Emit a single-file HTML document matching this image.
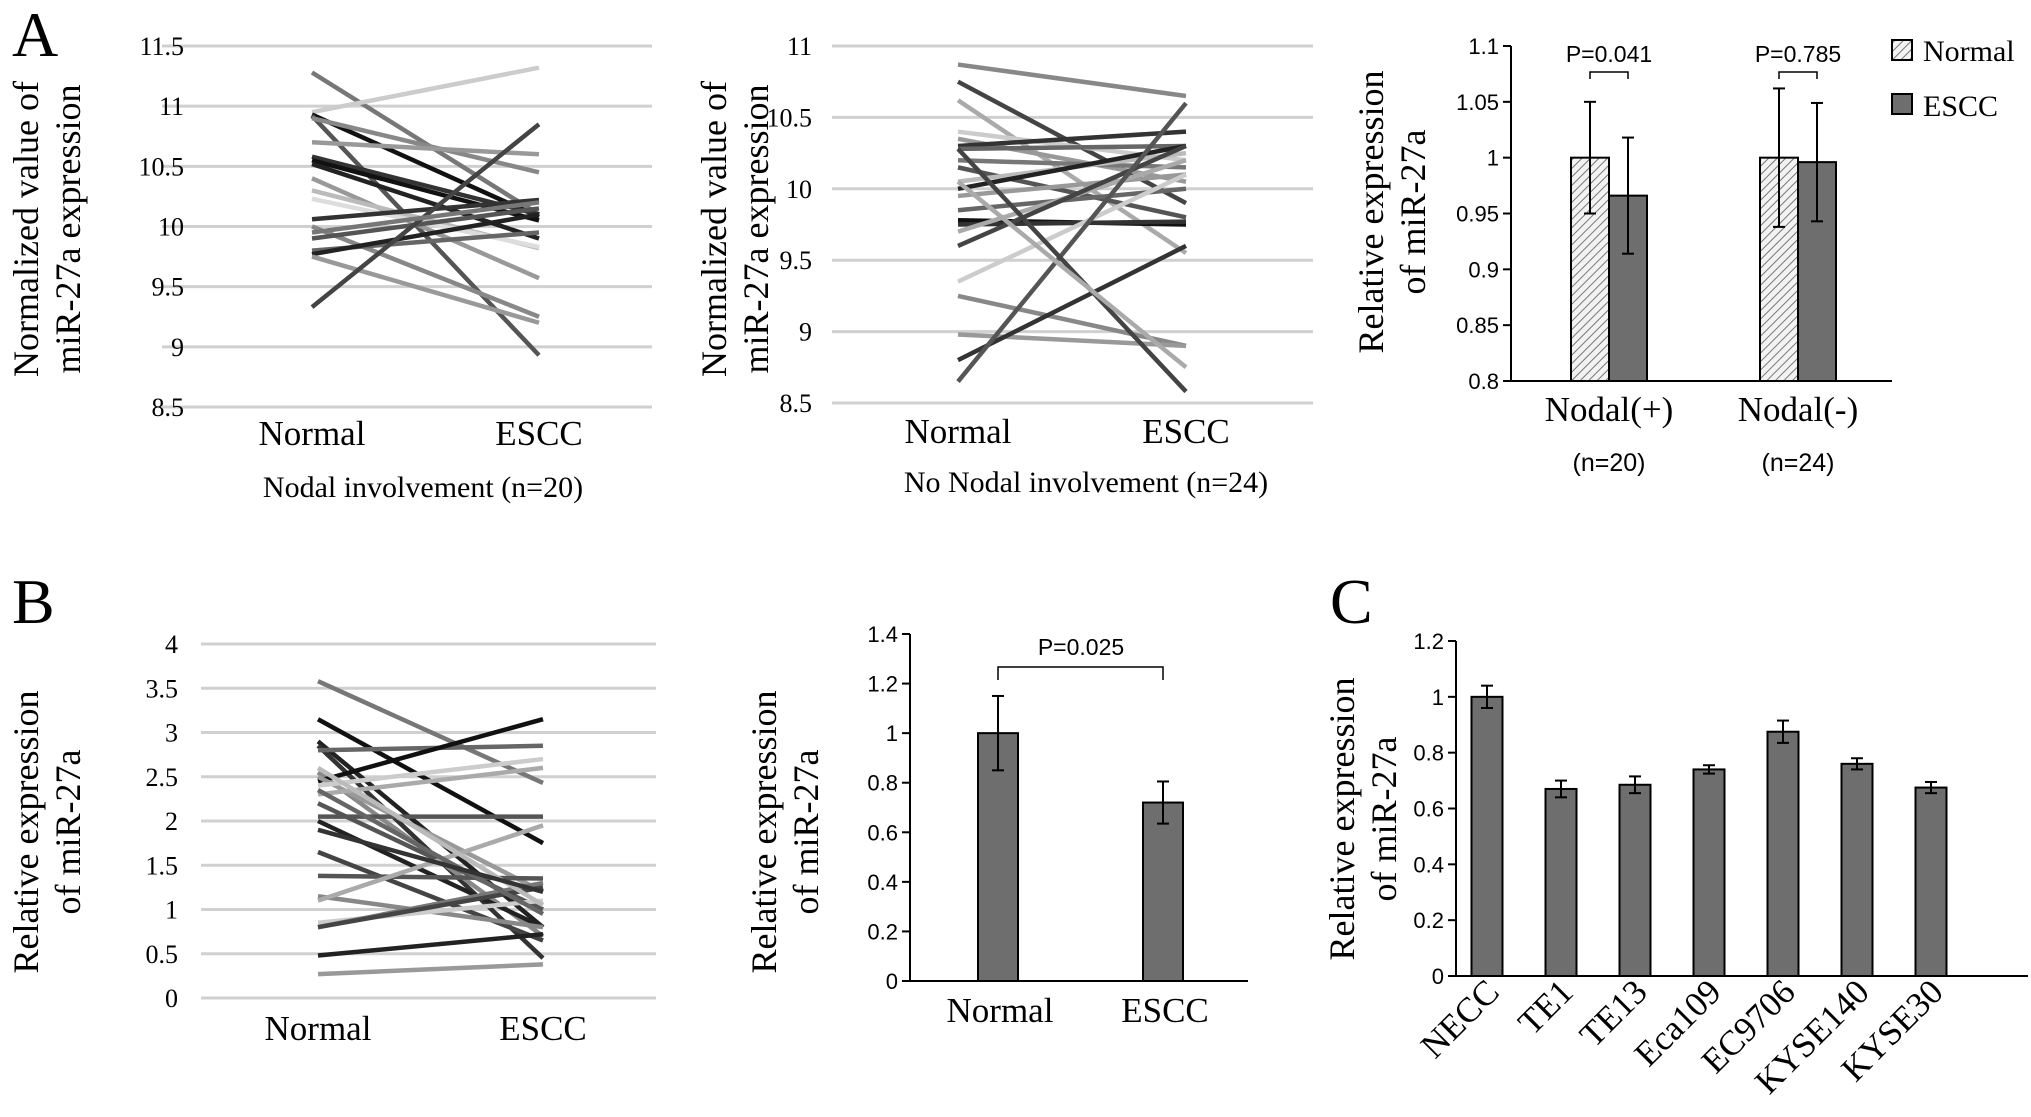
<!DOCTYPE html>
<html><head><meta charset="utf-8">
<style>
html,body{margin:0;padding:0;background:#fff;}
svg{display:block;}
.serif{font-family:"Liberation Serif",serif;}
.sans{font-family:"Liberation Sans",sans-serif;}
</style></head>
<body>
<svg id="fig" width="2031" height="1117" viewBox="0 0 2031 1117" xmlns="http://www.w3.org/2000/svg">
<defs>
<pattern id="hatch" patternUnits="userSpaceOnUse" width="6" height="6" patternTransform="rotate(45)">
<rect width="6" height="6" fill="#f2f2f2"/><line x1="0" y1="0" x2="0" y2="6" stroke="#777" stroke-width="2"/>
</pattern>
</defs>
<text class="serif" x="12" y="56" font-size="64">A</text>
<text class="serif" x="12" y="623" font-size="64">B</text>
<text class="serif" x="1330" y="623" font-size="64">C</text>
<g id="g"></g>
</svg>
<script>
// ---- Data ----
const a1Normal=[11.28,10.95,10.93,10.92,10.9,10.7,10.58,10.55,10.52,10.4,10.3,10.23,10.06,10.0,9.9,9.8,9.77,9.75,9.33,9.95];
const a1Escc=[10.1,11.32,10.08,8.93,10.45,10.6,10.1,10.05,9.9,9.57,9.82,9.83,10.22,9.25,10.15,9.95,10.1,9.2,10.85,10.2];
const a1Shade=[0x77,0xcc,0x11,0x55,0x88,0x99,0x33,0x11,0x22,0x99,0xbb,0xdd,0x33,0x88,0x55,0x66,0x22,0x99,0x44,0x77];
const a2Normal=[10.87,10.75,10.62,10.4,10.35,10.3,10.28,10.2,10.15,10.05,10.0,9.95,9.85,9.78,9.75,9.7,9.6,9.35,9.25,8.98,8.8,8.65,10.28,10.05];
const a2Escc=[10.65,9.9,9.55,10.2,10.05,10.4,10.3,10.15,9.8,10.25,10.3,10.1,10.0,9.75,9.77,10.2,10.3,10.1,8.9,8.9,9.6,10.6,8.58,8.75];
const a2Shade=[0x88,0x44,0xaa,0xcc,0x99,0x33,0x66,0x77,0x55,0xbb,0x22,0x99,0x66,0x11,0x33,0xaa,0x44,0xcc,0x88,0x99,0x33,0x55,0x44,0xaa];
const b1Normal=[3.58,3.15,2.9,2.85,2.8,2.55,2.45,2.5,2.4,2.3,2.2,2.05,2.0,1.65,1.38,1.15,1.1,0.85,0.8,0.8,0.48,0.27,2.6,2.35,1.9];
const b1Escc=[2.43,1.75,0.8,0.45,2.85,0.7,3.15,1.2,2.7,2.6,1.0,2.05,0.8,0.65,1.35,0.8,1.95,1.1,1.3,1.25,0.72,0.38,1.05,0.95,1.2];
const b1Shade=[0x77,0x11,0x22,0x33,0x66,0x88,0x11,0x99,0xcc,0xaa,0x55,0x55,0x22,0x44,0x55,0x88,0xaa,0xcc,0x77,0x44,0x22,0x99,0xbb,0x66,0x33];
const a3Groups=["Nodal(+)","Nodal(-)"];
const a3Ns=["(n=20)","(n=24)"];
const a3NormalVal=[1.0,1.0];
const a3NormalErr=[0.05,0.062];
const a3EsccVal=[0.966,0.996];
const a3EsccErr=[0.052,0.053];
const a3P=["P=0.041","P=0.785"];
const a3Ticks=["0.8","0.85","0.9","0.95","1","1.05","1.1"];
const b2Cats=["Normal","ESCC"];
const b2Vals=[1.0,0.72];
const b2Errs=[0.15,0.085];
const b2Ticks=["0","0.2","0.4","0.6","0.8","1","1.2","1.4"];
const cCats=["NECC","TE1","TE13","Eca109","EC9706","KYSE140","KYSE30"];
const cVals=[1.0,0.67,0.685,0.74,0.875,0.76,0.675];
const cErrs=[0.04,0.03,0.03,0.015,0.04,0.02,0.02];
const cTicks=["0","0.2","0.4","0.6","0.8","1","1.2"];
const a1Ticks=["8.5","9","9.5","10","10.5","11","11.5"];
const a2Ticks=["8.5","9","9.5","10","10.5","11"];
const b1Ticks=["0","0.5","1","1.5","2","2.5","3","3.5","4"];

const NS="http://www.w3.org/2000/svg";
const root=document.getElementById('g');
function mk(tag,attrs,parent,text){const e=document.createElementNS(NS,tag);for(const k in attrs)e.setAttribute(k,attrs[k]);if(text!==undefined)e.textContent=text;(parent||root).appendChild(e);return e;}
function lin(d0,d1,r0,r1){return v=>r0+(v-d0)/(d1-d0)*(r1-r0);}
function hex(s){const h=s.toString(16).padStart(2,'0');return '#'+h+h+h;}

// ---- Slope chart ----
function slope(name,x0,x1,ticks,yTop,yBot,nx,ex,nVals,eVals,shade,tickX,catY,catSize){
  const g=mk('g',{});
  
  
  const vmin=+ticks[0],vmax=+ticks[ticks.length-1];
  const y=lin(vmin,vmax,yBot,yTop);
  ticks.forEach(t=>{
    const l=mk('line',{x1:x0,x2:x1,y1:y(+t),y2:y(+t),stroke:'#d0d0d0','stroke-width':3},g);
    
    
    const tx=mk('text',{x:tickX,y:y(+t)+9,'text-anchor':'end','font-size':26,class:'serif'},g,t);
    
    
  });
  nVals.forEach((v,i)=>{
    const l=mk('line',{x1:nx,x2:ex,y1:y(v),y2:y(eVals[i]),stroke:hex(shade[i]),'stroke-width':4.5},g);
    
    
  });
  [['Normal',nx],['ESCC',ex]].forEach(([c,xx])=>{
    const t=mk('text',{x:xx,y:catY,'text-anchor':'middle','font-size':catSize,class:'serif'},g,c);
    
    
  });
}
slope('chart-nodal',162,652,a1Ticks,46,407,312,539,a1Normal,a1Escc,a1Shade,184,445,35);
slope('chart-no-nodal',832,1313,a2Ticks,46,403,958,1186,a2Normal,a2Escc,a2Shade,812,443,35);
slope('chart-b-paired',201,656,b1Ticks,644,998,318,543,b1Normal,b1Escc,b1Shade,178,1040,35);

function ytitle(name,cx,cy,lines,size,gap){
  const t=mk('text',{transform:`translate(${cx},${cy}) rotate(-90)`,'text-anchor':'middle','font-size':size,class:'serif'});
  
  
  lines.forEach((s,i)=>{mk('tspan',{x:0,y:i*gap},t,s);});
}
ytitle('y-axis-title-a1',38,229,['Normalized  value of','miR-27a expression'],36,42);
ytitle('y-axis-title-a2',726,229,['Normalized  value of','miR-27a expression'],36,42);
ytitle('y-axis-title-a3',1383,212,['Relative expression','of miR-27a'],36,42);
ytitle('y-axis-title-b1',38,832,['Relative expression','of miR-27a'],36,42);
ytitle('y-axis-title-b2',776,832,['Relative expression','of miR-27a'],36,42);
ytitle('y-axis-title-c',1354,819,['Relative expression','of miR-27a'],36,42);

let t=mk('text',{x:423,y:497,'text-anchor':'middle','font-size':30,class:'serif'},root,'Nodal involvement  (n=20)');


t=mk('text',{x:1086,y:492,'text-anchor':'middle','font-size':30,class:'serif'},root,'No Nodal involvement  (n=24)');



// ---- Bar helpers ----
function axes(g,x0,x1,yTop,yBot,ticks,tickSize){
  const vmin=+ticks[0],vmax=+ticks[ticks.length-1];
  const y=lin(vmin,vmax,yBot,yTop);
  mk('line',{x1:x0,x2:x0,y1:yTop,y2:yBot,stroke:'#000','stroke-width':2},g);
  mk('line',{x1:x0-8,x2:x1,y1:yBot,y2:yBot,stroke:'#000','stroke-width':2},g);
  ticks.forEach(tk=>{
    mk('line',{x1:x0-8,x2:x0,y1:y(+tk),y2:y(+tk),stroke:'#000','stroke-width':2},g);
    const tx=mk('text',{x:x0-12,y:y(+tk)+8,'text-anchor':'end','font-size':tickSize,class:'sans'},g,tk);
    
    
  });
  return y;
}
function bar(g,cx,w,v,err,y,fill,name){
  const r=mk('rect',{x:cx-w/2,y:y(v),width:w,height:y(+0)-y(v),fill:fill,stroke:'#000','stroke-width':2},g);
  
  
  const e=mk('g',{stroke:'#000','stroke-width':2},g);
  
  
  mk('line',{x1:cx,x2:cx,y1:y(v+err),y2:y(v-err)},e);
  mk('line',{x1:cx-6,x2:cx+6,y1:y(v+err),y2:y(v+err)},e);
  mk('line',{x1:cx-6,x2:cx+6,y1:y(v-err),y2:y(v-err)},e);
}

// A3
{
  const g=mk('g',{});
  
  
  const vmin=+a3Ticks[0];
  const y0=axes(g,1511,1892,46,381,a3Ticks,22);
  const centers=[1609,1798];
  a3Groups.forEach((c,i)=>{
    const cx=centers[i];
    const r1=mk('rect',{x:cx-38,y:y0(a3NormalVal[i]),width:38,height:y0(vmin)-y0(a3NormalVal[i]),fill:'url(#hatch)',stroke:'#000','stroke-width':2},g);
    
    
    const r2=mk('rect',{x:cx,y:y0(a3EsccVal[i]),width:38,height:y0(vmin)-y0(a3EsccVal[i]),fill:'#6e6e6e',stroke:'#000','stroke-width':2},g);
    
    
    [[cx-19,a3NormalVal[i],a3NormalErr[i]],[cx+19,a3EsccVal[i],a3EsccErr[i]]].forEach(([x,v,e])=>{
      const eb=mk('g',{stroke:'#000','stroke-width':2},g);
      
      
      mk('line',{x1:x,x2:x,y1:y0(v+e),y2:y0(v-e)},eb);
      mk('line',{x1:x-6,x2:x+6,y1:y0(v+e),y2:y0(v+e)},eb);
      mk('line',{x1:x-6,x2:x+6,y1:y0(v-e),y2:y0(v-e)},eb);
    });
    const br=mk('path',{d:`M${cx-19},79 V72 H${cx+19} V79`,fill:'none',stroke:'#000','stroke-width':1.5},g);
    
    
    let tx=mk('text',{x:cx,y:62,'text-anchor':'middle','font-size':23,class:'sans'},g,a3P[i]);
    
    
    tx=mk('text',{x:cx,y:421,'text-anchor':'middle','font-size':35,class:'serif'},g,c);
    
    
    tx=mk('text',{x:cx,y:471,'text-anchor':'middle','font-size':25,class:'sans'},g,a3Ns[i]);
    
    
  });
  const lg=mk('g',{},g);
  
  
  mk('rect',{x:1892,y:40,width:20,height:20,fill:'url(#hatch)',stroke:'#000','stroke-width':2},lg);
  mk('text',{x:1923,y:61,'font-size':30,class:'serif'},lg,'Normal');
  mk('rect',{x:1892,y:94,width:20,height:20,fill:'#6e6e6e',stroke:'#000','stroke-width':2},lg);
  mk('text',{x:1923,y:116,'font-size':30,class:'serif'},lg,'ESCC');
}

// B2
{
  const g=mk('g',{});
  
  
  const y=axes(g,910,1248,634,981,b2Ticks,22);
  const centers=[998,1163];
  b2Cats.forEach((c,i)=>{
    bar(g,centers[i],40,b2Vals[i],b2Errs[i],y,'#6e6e6e','bar-'+c.toLowerCase());
    const tx=mk('text',{x:centers[i]+2,y:1022,'text-anchor':'middle','font-size':35,class:'serif'},g,c);
    
    
  });
  const br=mk('path',{d:`M${centers[0]},680 V667 H${centers[1]} V680`,fill:'none',stroke:'#000','stroke-width':1.5},g);
  
  
  const tx=mk('text',{x:1081,y:655,'text-anchor':'middle','font-size':23,class:'sans'},g,'P=0.025');
  
  
}

// C
{
  const g=mk('g',{});
  
  
  const y=axes(g,1456,2028,641,976,cTicks,22);
  cCats.forEach((c,i)=>{
    const cx=1487+i*74;
    bar(g,cx,31,cVals[i],cErrs[i],y,'#6e6e6e','bar-'+c.toLowerCase());
    const tx=mk('text',{transform:`translate(${cx+14},994) rotate(-45)`,'text-anchor':'end','font-size':35,class:'serif'},g,c);
    
    
  });
}
</script>
</body></html>
